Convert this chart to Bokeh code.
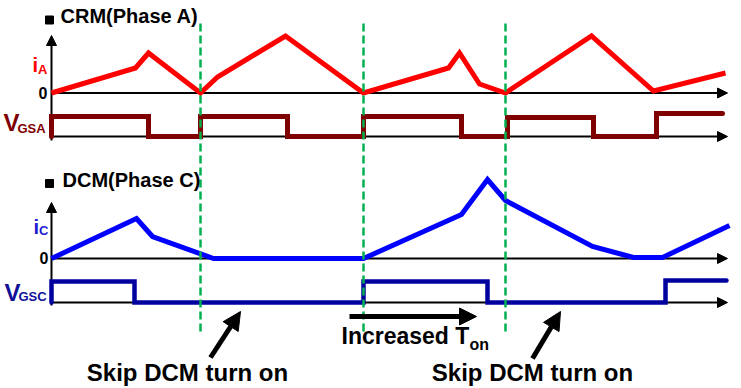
from bokeh.plotting import figure
from bokeh.models import Range1d, Arrow, NormalHead, Label
from bokeh.embed import file_html
from bokeh.resources import INLINE

# ---- data (time positions along the shared horizontal time axis, amplitudes above each baseline) ----
ia_t = [51, 135, 148, 200, 217, 285, 363, 448, 459, 479, 505, 591, 653, 725]
ia_amp = [0, 25, 40, 0, 16, 57, 0, 25, 40, 9, 0, 57, 2, 20]
vgsa_edges = [51, 148, 200, 287, 363, 461, 507, 593, 656, 722]
vgsa_amp = [20, 0, 20, 0, 20, 0, 19, 0, 23]
ic_t = [51, 136, 152, 213, 363, 461, 487, 505, 592, 633, 662, 729]
ic_amp = [0, 40, 22, 0, 0, 44, 79, 58, 12, 1, 1, 33]
vgsc_edges = [51, 134, 363, 487, 665, 726]
vgsc_amp = [21, 0, 21, 0, 22]
marker_t = [200, 363, 505]

# baselines of the four traces (vertical layout)
IA0, VA0, IC0, VC0 = 92.5, 136, 258, 302
T0, T_END = 51, 727

FONT = "Liberation Sans"
RED = "#FF0000"
DRED = "#7F0000"
BLUE = "#0000FF"
DBLUE = "#00009E"
GREEN = "#00B050"

p = figure(width=741, height=388, x_range=Range1d(0, 741), y_range=Range1d(388, 0),
           output_backend="svg", toolbar_location=None, x_axis_type=None, y_axis_type=None,
           min_border=0)
p.grid.visible = False
p.outline_line_color = None
p.background_fill_color = "white"


def step(edges, amps, base):
    xs, ys = [edges[0]], [base]
    for i, a in enumerate(amps):
        xs += [edges[i], edges[i + 1]]
        ys += [base - a, base - a]
    return xs, ys


# axes (drawn beneath the waveforms)
for b in (IA0, VA0, IC0, VC0):
    p.add_layout(Arrow(x_start=T0, y_start=b, x_end=T_END, y_end=b, line_width=2,
                       line_color="black", level="underlay",
                       end=NormalHead(size=10, fill_color="black", line_color="black")))
p.add_layout(Arrow(x_start=T0, y_start=140, x_end=T0, y_end=35, line_width=2, level="underlay",
                   end=NormalHead(size=10, fill_color="black", line_color="black")))
p.add_layout(Arrow(x_start=T0, y_start=305, x_end=T0, y_end=202, line_width=2, level="underlay",
                   end=NormalHead(size=10, fill_color="black", line_color="black")))

# waveforms
p.line(ia_t, [IA0 - a for a in ia_amp], line_color=RED, line_width=5, line_join="miter")
xs, ys = step(vgsa_edges, vgsa_amp, VA0)
p.line(xs, ys, line_color=DRED, line_width=5, line_join="miter", line_cap="round")
p.line(ic_t, [IC0 - a for a in ic_amp], line_color=BLUE, line_width=5, line_join="miter")
xs, ys = step(vgsc_edges, vgsc_amp, VC0)
p.line(xs, ys, line_color=DBLUE, line_width=4.5, line_join="miter", line_cap="round")

# green dashed markers
p.segment(x0=marker_t, y0=23, x1=marker_t, y1=335, line_color=GREEN, line_width=2.5,
          line_dash="8 4")

# title bullets
p.scatter([49, 49], [19.5, 183], marker="square", size=8, fill_color="black", line_color="black")


def lab(x, y, text, size, color="black", align="left"):
    # y is the vertical centre of the capital letters
    p.add_layout(Label(x=x, y=y, text=text, text_font=FONT, text_font_style="bold",
                       text_font_size=f"{size}px", text_color=color, text_align=align,
                       text_baseline="middle"))


lab(60, 15.5, "CRM(Phase A)", 20)
lab(62, 179.5, "DCM(Phase C)", 20)
lab(47, 92.5, "0", 16, align="right")
lab(48, 257.5, "0", 16, align="right")
lab(32, 64, "i", 20, color=RED)
lab(37.5, 68.5, "A", 13, color=RED)
lab(33, 226, "i", 20, color="#2020D0")
lab(38.5, 229.5, "C", 13, color="#2020D0")
lab(3, 121.5, "V", 24, color=DRED)
lab(17, 128, "GSA", 13, color=DRED)
lab(4, 291.5, "V", 24, color="#10109A")
lab(18, 295.5, "GSC", 13, color="#10109A")

lab(187, 372, "Skip DCM turn on", 24, align="center")
lab(532, 372, "Skip DCM turn on", 24, align="center")
lab(341, 335, "Increased T", 23)
lab(469, 343.5, "on", 16)

# annotation arrows
for xs0, ys0, xe, ye in [(210, 357, 240, 311), (532, 358, 560, 311)]:
    p.add_layout(Arrow(x_start=xs0, y_start=ys0, x_end=xe, y_end=ye, line_width=5,
                       line_color="black",
                       end=NormalHead(size=18, fill_color="black", line_color="black")))
p.add_layout(Arrow(x_start=349, y_start=316, x_end=476, y_end=316, line_width=5,
                   line_color="black",
                   end=NormalHead(size=17, fill_color="black", line_color="black")))

open("out.html", "w").write(file_html(p, INLINE))
